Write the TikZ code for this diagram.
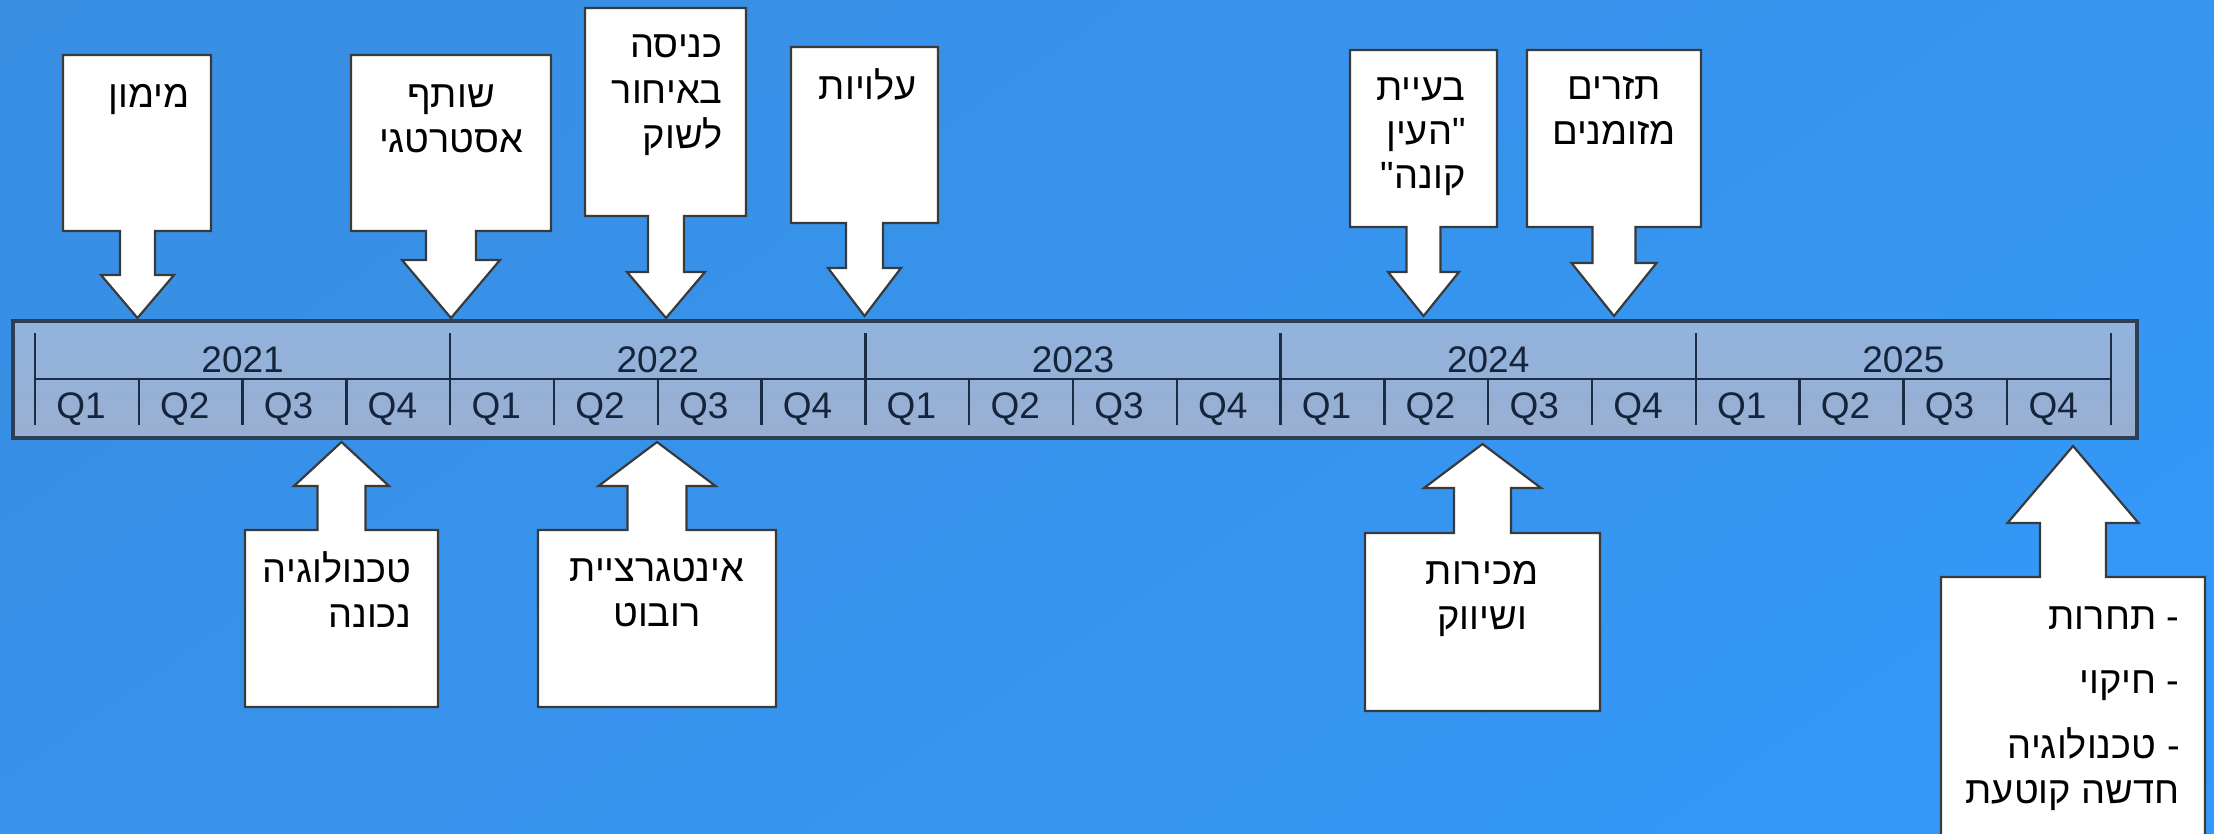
\documentclass[tikz,border=0pt]{standalone}
\usepackage{fontspec}
\setmainfont{Liberation Sans}
\newfontfamily\heb[Script=Hebrew]{Liberation Sans}
\TeXXeTstate=1
\definecolor{bgA}{HTML}{3A88D6}
\definecolor{bgB}{HTML}{3890E6}
\definecolor{bgC}{HTML}{3597F4}
\definecolor{bgD}{HTML}{3399FF}
\definecolor{bgE}{HTML}{318DEA}
\definecolor{bgF}{HTML}{2B76C4}
\definecolor{barT}{HTML}{91B3DD}
\definecolor{barB}{HTML}{99AFD1}
\definecolor{barline}{HTML}{2E3E54}
\definecolor{bartext}{HTML}{15243A}
\definecolor{tickc}{HTML}{1B2D45}
\definecolor{cbord}{HTML}{3A3A3A}
\pgfdeclarehorizontalshading{bgshade}{100bp}{color(0bp)=(bgA); color(35bp)=(bgB); color(65bp)=(bgC); color(78bp)=(bgD); color(86bp)=(bgE); color(100bp)=(bgF)}
\newcommand\downco[9]{\draw[callout] (#1,#3) -- (#2,#3) -- (#2,#4) -- ({#5+#6},#4) -- ({#5+#6},#8) -- ({#5+#7},#8) -- (#5,#9) -- ({#5-#7},#8) -- ({#5-#6},#8) -- ({#5-#6},#4) -- (#1,#4) -- cycle;}
\newcommand\upco[9]{\draw[callout] (#1,#4) -- (#1,#3) -- ({#5-#6},#3) -- ({#5-#6},#8) -- ({#5-#7},#8) -- (#5,#9) -- ({#5+#7},#8) -- ({#5+#6},#8) -- ({#5+#6},#3) -- (#2,#3) -- (#2,#4) -- cycle;}
\begin{document}
\begin{tikzpicture}[x=0.5pt,y=-0.5pt,
  callout/.style={fill=white, draw=cbord, line width=1.1pt, line join=miter},
  lbl/.style={font=\heb\fontsize{19}{22}\selectfont, inner sep=0pt, text=black},
  yr/.style={font=\fontsize{18.5}{22}\selectfont, inner sep=0pt, text=bartext},
  tick/.style={draw=tickc, line width=1.2pt},
  bar/.style={draw=barline, line width=1.6pt, top color=barT, bottom color=barB, inner sep=0pt}]
\useasboundingbox (0,0) rectangle (2214,834);
% background
\begin{scope}
  \clip (0,0) rectangle (2214,834);
  \begin{scope}[transform canvas={rotate=-55.3}]
    \shade[shading=bgshade] (0,-3000) rectangle (1946,3000);
  \end{scope}
\end{scope}
% timeline bar
\node[bar, minimum width=1062pt, minimum height=58.5pt] (bar) at (1075,379.5) {};
\foreach \i in {0,...,5} \draw[tick] ({35+415.2*\i},333) -- ({35+415.2*\i},425);
\foreach \k in {1,...,19} \draw[tick] ({35+103.8*\k},379) -- ({35+103.8*\k},425);
\draw[tick] (35,379) -- (2111,379);
\foreach \yr [count=\i from 0] in {2021,2022,2023,2024,2025}
  \node[yr, anchor=base] (y\yr) at ({242.6+415.2*\i},372) {\yr};
\foreach \k in {0,...,19} {
  \pgfmathtruncatemacro\qq{mod(\k,4)+1}
  \node[yr, anchor=base] (q\k) at ({35+103.8*\k+46},418) {Q\qq};
}
% callouts above
\downco{63}{211}{55}{231}{137.5}{17.5}{36.5}{275}{318}
\downco{351}{551}{55}{231}{451}{25}{49}{260}{318}
\downco{585}{746}{8}{216}{666}{18}{39}{272}{318}
\downco{791}{938}{47}{223}{864.5}{18.5}{36.5}{268}{316}
\downco{1350}{1497}{50}{227}{1423.5}{17}{35.5}{272}{316}
\downco{1527}{1701}{50}{227}{1614}{21.5}{42.5}{263}{316}
% callouts below
\upco{245}{438}{530}{707}{341.5}{24}{47.5}{486}{442}
\upco{538}{776}{530}{707}{657}{29.5}{58.5}{486}{442}
\upco{1365}{1600}{533}{711}{1482.5}{28.5}{58.5}{488}{444}
\upco{1941}{2205}{577}{870}{2073}{33}{65.5}{523}{446}
% texts
\node[lbl, anchor=base] (t1) at (149,108) {\beginR מימון\endR};
\node[lbl, anchor=base] (t2a) at (451,108) {\beginR שותף\endR};
\node[lbl, anchor=base] (t2b) at (451,153) {\beginR אסטרטגי\endR};
\node[lbl, anchor=base east] (t3a) at (723,58) {\beginR כניסה\endR};
\node[lbl, anchor=base east] (t3b) at (723,104) {\beginR באיחור\endR};
\node[lbl, anchor=base east] (t3c) at (723,149) {\beginR לשוק\endR};
\node[lbl, anchor=base] (t4) at (868,100) {\beginR עלויות\endR};
\node[lbl, anchor=base east] (t5a) at (1466,101) {\beginR בעיית\endR};
\node[lbl, anchor=base east] (t5b) at (1466,145) {\beginR "העין\endR};
\node[lbl, anchor=base east] (t5c) at (1466,189) {\beginR קונה"\endR};
\node[lbl, anchor=base] (t6a) at (1614,100) {\beginR תזרים\endR};
\node[lbl, anchor=base] (t6b) at (1614,145) {\beginR מזומנים\endR};
\node[lbl, anchor=base east] (t7a) at (412,582) {\beginR טכנולוגיה\endR};
\node[lbl, anchor=base east] (t7b) at (412,627) {\beginR נכונה\endR};
\node[lbl, anchor=base] (t8a) at (657,581) {\beginR אינטגרציית\endR};
\node[lbl, anchor=base] (t8b) at (657,626) {\beginR רובוט\endR};
\node[lbl, anchor=base] (t9a) at (1482,584) {\beginR מכירות\endR};
\node[lbl, anchor=base] (t9b) at (1482,629) {\beginR ושיווק\endR};
\node[lbl, anchor=base east] (t10a) at (2180,629) {\beginR - תחרות\endR};
\node[lbl, anchor=base east] (t10b) at (2180,693) {\beginR - חיקוי\endR};
\node[lbl, anchor=base east] (t10c) at (2180,758) {\beginR - טכנולוגיה\endR};
\node[lbl, anchor=base east] (t10d) at (2180,803) {\beginR חדשה קוטעת\endR};
\end{tikzpicture}
\end{document}
